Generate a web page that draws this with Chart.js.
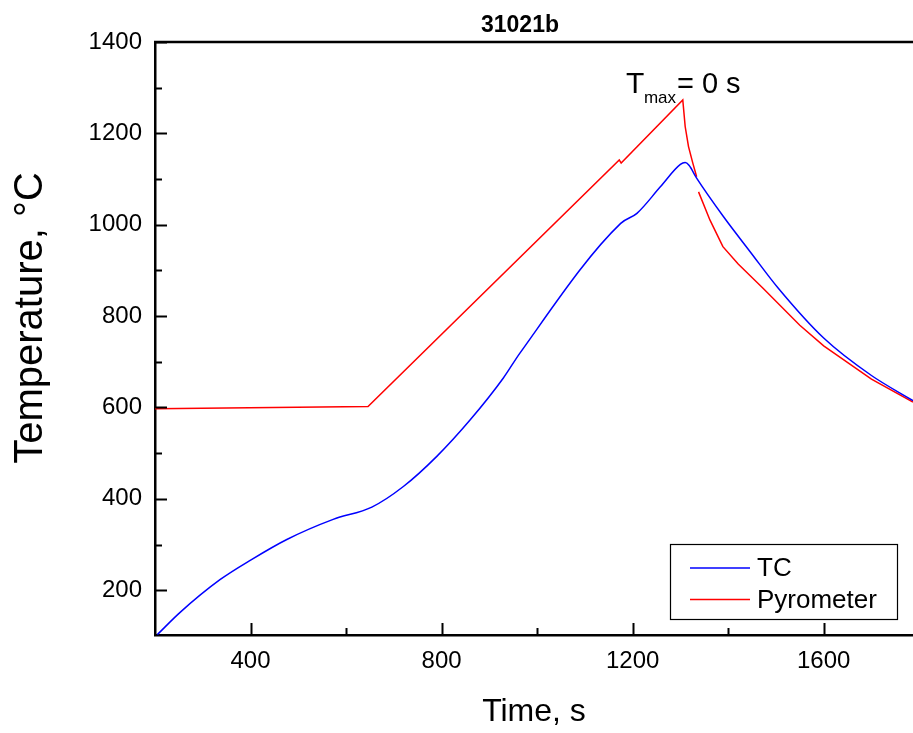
<!DOCTYPE html>
<html>
<head>
<meta charset="utf-8">
<script src="https://cdn.jsdelivr.net/npm/chart.js@4.4.1/dist/chart.umd.min.js"></script>
<style>
    html, body { margin: 0; padding: 0; background: #fff; }
    #wrap { width: 913px; height: 733px; position: relative; }
</style>
</head>
<body>
<div id="wrap"><canvas id="c"></canvas></div>
<script>
// Dane (czas w s, temperatura w °C)
const tcTime = [205, 252, 336, 402, 476, 573, 654, 720, 790, 860, 929, 964, 1175, 1209, 1258, 1300, 1310, 1318, 1334, 1390, 1446, 1505, 1600, 1700, 1787];
const tcTemp = [103, 151, 223, 267, 311, 355, 382, 427, 493, 573, 664, 719, 1003, 1025, 1083, 1132, 1136, 1130, 1102, 1018, 941, 861, 752, 670, 615];

// null = przerwa w zapisie pirometru
const pyroTime = [200, 646, 1172, 1176, 1305, 1310, 1317, 1326, 1334, 1336, 1338, 1362, 1389, 1421, 1473, 1550, 1600, 1700, 1787];
const pyroTemp = [597, 602, 1142, 1135, 1273, 1215, 1171, 1135, 1105, null, 1072, 1010, 952, 914, 861, 780, 735, 662, 612];

const xMajorTicks = [400, 800, 1200, 1600];
const xMinorTicks = [600, 1000, 1400];
const yMajorTicks = [200, 400, 600, 800, 1000, 1200, 1400];
const yMinorTicks = [300, 500, 700, 900, 1100, 1300];

const seriesLabels = ["TC", "Pyrometer"];
const seriesColors = ["#0000ff", "#ff0000"];
const chartTitle = "31021b";
const yTitle = "Temperature, °C";

const FONT = "'Liberation Sans', Arial, sans-serif";

const toPoints = (xs, ys) => xs.map((x, i) => ({ x: x, y: ys[i] }));

// ramka u góry, znaczniki do środka, tytuły, adnotacja i legenda w polu wykresu
const decorPlugin = {
    id: "decor",
    afterDraw(chart) {
        const ctx = chart.ctx;
        const area = chart.chartArea;
        const xs = chart.scales.x;
        const ys = chart.scales.y;

        ctx.save();
        ctx.strokeStyle = "#000";
        ctx.lineWidth = 2.5;
        ctx.beginPath();
        ctx.moveTo(area.left - 1, area.top);
        ctx.lineTo(area.right, area.top);
        ctx.stroke();

        ctx.lineWidth = 2;
        const tick = (vals, len, horiz) => {
            vals.forEach(v => {
                ctx.beginPath();
                if (horiz) {
                    const px = Math.round(xs.getPixelForValue(v)) + 0.5;
                    ctx.moveTo(px, area.bottom);
                    ctx.lineTo(px, area.bottom - len);
                } else {
                    const py = Math.round(ys.getPixelForValue(v)) + 0.5;
                    ctx.moveTo(area.left, py);
                    ctx.lineTo(area.left + len, py);
                }
                ctx.stroke();
            });
        };
        tick(xMajorTicks, 12, true);
        tick(xMinorTicks, 7, true);
        tick(yMajorTicks, 12, false);
        tick(yMinorTicks, 7, false);

        // tytuł wykresu
        ctx.fillStyle = "#000";
        ctx.textAlign = "center";
        ctx.textBaseline = "middle";
        ctx.font = "bold 23px " + FONT;
        ctx.fillText(chartTitle, 520, 26);

        // tytuł osi Y (w oryginale przesunięty nieco w górę)
        ctx.save();
        ctx.translate(31, 318);
        ctx.rotate(-Math.PI / 2);
        ctx.font = "40px " + FONT;
        ctx.fillText(yTitle, 0, 0);
        ctx.restore();

        // T_max = 0 s
        const ax = xs.getPixelForValue(1186);
        const ay = ys.getPixelForValue(1288);
        ctx.textBaseline = "alphabetic";
        ctx.textAlign = "left";
        ctx.font = "30px " + FONT;
        ctx.fillText("T", ax, ay);
        ctx.font = "17px " + FONT;
        ctx.fillText("max", ax + 18, ay + 10);
        ctx.font = "29px " + FONT;
        ctx.fillText("= 0 s", ax + 51, ay);

        // legenda
        const lx = 670, ly = 544, lw = 227, lh = 75;
        ctx.fillStyle = "#fff";
        ctx.fillRect(lx, ly, lw, lh);
        ctx.lineWidth = 1.2;
        ctx.strokeStyle = "#000";
        ctx.strokeRect(lx + 0.5, ly + 0.5, lw, lh);
        ctx.font = "26px " + FONT;
        ctx.textBaseline = "middle";
        seriesLabels.forEach((lab, i) => {
            const y = ly + 24 + i * 31.5;
            ctx.strokeStyle = seriesColors[i];
            ctx.lineWidth = 1.5;
            ctx.beginPath();
            ctx.moveTo(lx + 20, y);
            ctx.lineTo(lx + 80, y);
            ctx.stroke();
            ctx.fillStyle = "#000";
            ctx.fillText(lab, lx + 87, y + 1);
        });
        ctx.restore();
    }
};

new Chart(document.getElementById("c"), {
    type: "line",
    data: {
        datasets: [
            {
                label: seriesLabels[0],
                data: toPoints(tcTime, tcTemp),
                borderColor: seriesColors[0],
                borderWidth: 1.5,
                pointRadius: 0,
                cubicInterpolationMode: "monotone",
            },
            {
                label: seriesLabels[1],
                data: toPoints(pyroTime, pyroTemp),
                borderColor: seriesColors[1],
                borderWidth: 1.5,
                pointRadius: 0,
                tension: 0,
                spanGaps: false,
            },
        ],
    },
    options: {
        responsive: true,
        maintainAspectRatio: false,
        animation: false,
        layout: { padding: { left: 0, right: 0, top: 42, bottom: 0 } },
        plugins: {
            legend: { display: false },
            tooltip: { enabled: false },
            title: { display: false },
        },
        scales: {
            x: {
                type: "linear",
                min: 200,
                max: 1787,
                afterBuildTicks: (s) => { s.ticks = xMajorTicks.map(v => ({ value: v })); },
                afterFit: (s) => { s.height = 98; },
                grid: { drawOnChartArea: false, drawTicks: false },
                border: { color: "#000", width: 2.5 },
                ticks: {
                    color: "#000",
                    padding: 12,
                    maxRotation: 0,
                    font: { family: FONT, size: 24 },
                    callback: (v) => String(v),
                },
                title: {
                    display: true,
                    text: "Time, s",
                    color: "#000",
                    font: { family: FONT, size: 32 },
                    padding: { top: 0, bottom: 2 },
                },
            },
            y: {
                type: "linear",
                min: 102,
                max: 1400,
                afterBuildTicks: (s) => { s.ticks = yMajorTicks.map(v => ({ value: v })); },
                afterFit: (s) => { s.width = 155; },
                grid: { drawOnChartArea: false, drawTicks: false },
                border: { color: "#000", width: 2.5 },
                ticks: {
                    color: "#000",
                    padding: 13,
                    font: { family: FONT, size: 24 },
                    callback: (v) => String(v),
                },
            },
        },
    },
    plugins: [decorPlugin],
});
</script>
</body>
</html>
